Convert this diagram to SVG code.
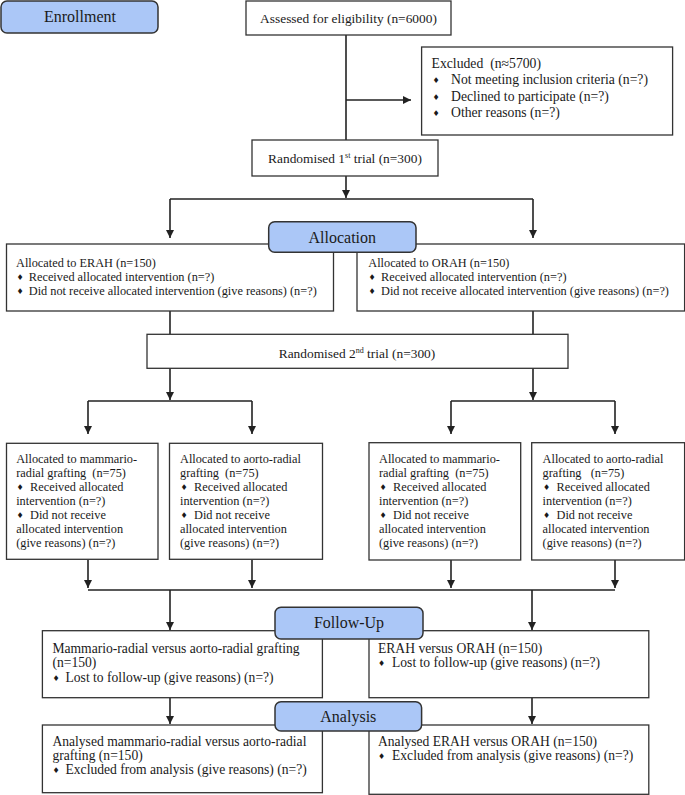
<svg xmlns="http://www.w3.org/2000/svg" width="685" height="795" viewBox="0 0 685 795">
<style>
text{font-family:"Liberation Serif","Times New Roman",serif;fill:#1a1a1a;white-space:pre}
.box{fill:#fff;stroke:#333;stroke-width:1.3}
.stage{fill:#abc7f7;stroke:#333;stroke-width:1.5}
.st{font-size:16px;text-anchor:middle}
.m{font-size:13.4px;text-anchor:middle}
.s{font-size:12.3px}
.l{font-size:13.6px}
.x{font-size:13.7px}
.b{font-family:"DejaVu Sans",sans-serif;font-size:8px;text-anchor:middle}
.c{fill:none;stroke:#222;stroke-width:1.6}
.sup{font-size:8px}
</style>
<defs>
<marker id="ah" markerUnits="userSpaceOnUse" markerWidth="9" markerHeight="9" refX="8" refY="4" orient="auto">
<path d="M0,0 L8,4 L0,8 z" fill="#222"/>
</marker>
</defs>
<g id="connectors">
<path class="c" d="M346,35 V140"/>
<path class="c" d="M346,100 H411" marker-end="url(#ah)"/>
<path class="c" d="M346,176 V198" marker-end="url(#ah)"/>
<path class="c" d="M170,199 H533"/>
<path class="c" d="M170,199 V238" marker-end="url(#ah)"/>
<path class="c" d="M533,199 V238" marker-end="url(#ah)"/>
<path class="c" d="M170,311 V334"/>
<path class="c" d="M533,311 V334"/>
<path class="c" d="M170,368 V400" marker-end="url(#ah)"/>
<path class="c" d="M533,368 V400" marker-end="url(#ah)"/>
<path class="c" d="M88,401 H252"/>
<path class="c" d="M451,401 H615"/>
<path class="c" d="M88,401 V434" marker-end="url(#ah)"/>
<path class="c" d="M252,401 V434" marker-end="url(#ah)"/>
<path class="c" d="M451,401 V434" marker-end="url(#ah)"/>
<path class="c" d="M615,401 V434" marker-end="url(#ah)"/>
<path class="c" d="M88,560 V588" marker-end="url(#ah)"/>
<path class="c" d="M252,560 V588" marker-end="url(#ah)"/>
<path class="c" d="M451,560 V588" marker-end="url(#ah)"/>
<path class="c" d="M615,560 V588" marker-end="url(#ah)"/>
<path class="c" d="M88,590 H615"/>
<path class="c" d="M170,590 V630" marker-end="url(#ah)"/>
<path class="c" d="M532,590 V630" marker-end="url(#ah)"/>
<path class="c" d="M170,698 V724" marker-end="url(#ah)"/>
<path class="c" d="M532,698 V724" marker-end="url(#ah)"/>
</g>
<g id="enrollment">
<rect class="stage" x="1" y="1" width="157" height="32" rx="6"/>
<text class="st" x="80" y="22">Enrollment</text>
</g>
<g id="assessed">
<rect class="box" x="246" y="1" width="205" height="34"/>
<text class="m" x="348.5" y="23">Assessed for eligibility (n=6000)</text>
</g>
<g id="excluded">
<rect class="box" x="421.6" y="47" width="251" height="88"/>
<text class="x" x="431.6" y="68">Excluded  (n≈5700)</text>
<text class="b" x="436" y="83">♦</text><text class="x" x="451" y="84.3">Not meeting inclusion criteria (n=?)</text>
<text class="b" x="436" y="99.5">♦</text><text class="x" x="451" y="100.7">Declined to participate (n=?)</text>
<text class="b" x="436" y="115.5">♦</text><text class="x" x="451" y="116.7">Other reasons (n=?)</text>
</g>
<g id="randomised1">
<rect class="box" x="252" y="140" width="186" height="36"/>
<text class="m" x="345" y="163">Randomised 1<tspan class="sup" dy="-5">st</tspan><tspan dy="5"> trial (n=300)</tspan></text>
</g>
<g id="erah">
<rect class="box" x="6.5" y="244" width="327" height="67"/>
<text class="s" x="16" y="266.7">Allocated to ERAH (n=150)</text>
<text class="b" x="20" y="280">♦</text><text class="s" x="28.8" y="281">Received allocated intervention (n=?)</text>
<text class="b" x="20" y="294.3">♦</text><text class="s" x="28.8" y="295.3">Did not receive allocated intervention (give reasons) (n=?)</text>
</g>
<g id="orah">
<rect class="box" x="357" y="244" width="327.6" height="67"/>
<text class="s" x="368.3" y="266.7">Allocated to ORAH (n=150)</text>
<text class="b" x="372" y="280">♦</text><text class="s" x="381" y="281">Received allocated intervention (n=?)</text>
<text class="b" x="372" y="294.3">♦</text><text class="s" x="381" y="295.3">Did not receive allocated intervention (give reasons) (n=?)</text>
</g>
<g id="allocation">
<rect class="stage" x="268.7" y="221.7" width="147.3" height="30.6" rx="6"/>
<text class="st" x="342.3" y="242.5">Allocation</text>
</g>
<g id="randomised2">
<rect class="box" x="147" y="334.3" width="421" height="34"/>
<text class="m" x="357" y="358">Randomised 2<tspan class="sup" dy="-5">nd</tspan><tspan dy="5"> trial (n=300)</tspan></text>
</g>
<g id="erah-mammario">
<rect class="box" x="6.5" y="443.3" width="151.5" height="116"/>
<text class="s" x="16.2" y="463.3">Allocated to mammario-</text>
<text class="s" x="16.2" y="477.2">radial grafting  (n=75)</text>
<text class="b" x="20" y="490">♦</text><text class="s" x="27" y="491.1"> Received allocated</text>
<text class="s" x="16.2" y="505">intervention (n=?)</text>
<text class="b" x="20" y="517.8">♦</text><text class="s" x="27" y="518.9"> Did not receive</text>
<text class="s" x="16.2" y="532.8">allocated intervention</text>
<text class="s" x="16.2" y="546.7">(give reasons) (n=?)</text>
</g>
<g id="erah-aorto">
<rect class="box" x="169.5" y="443.3" width="153" height="116"/>
<text class="s" x="180" y="463.3">Allocated to aorto-radial</text>
<text class="s" x="180" y="477.2">grafting  (n=75)</text>
<text class="b" x="184" y="490">♦</text><text class="s" x="191" y="491.1"> Received allocated</text>
<text class="s" x="180" y="505">intervention (n=?)</text>
<text class="b" x="184" y="517.8">♦</text><text class="s" x="191" y="518.9"> Did not receive</text>
<text class="s" x="180" y="532.8">allocated intervention</text>
<text class="s" x="180" y="546.7">(give reasons) (n=?)</text>
</g>
<g id="orah-mammario">
<rect class="box" x="369" y="442.7" width="151.7" height="117.3"/>
<text class="s" x="379" y="463.3">Allocated to mammario-</text>
<text class="s" x="379" y="477.2">radial grafting  (n=75)</text>
<text class="b" x="383" y="490">♦</text><text class="s" x="390" y="491.1"> Received allocated</text>
<text class="s" x="379" y="505">intervention (n=?)</text>
<text class="b" x="383" y="517.8">♦</text><text class="s" x="390" y="518.9"> Did not receive</text>
<text class="s" x="379" y="532.8">allocated intervention</text>
<text class="s" x="379" y="546.7">(give reasons) (n=?)</text>
</g>
<g id="orah-aorto">
<rect class="box" x="531.7" y="442.7" width="152.9" height="117.3"/>
<text class="s" x="542.6" y="463.3">Allocated to aorto-radial</text>
<text class="s" x="542.6" y="477.2">grafting   (n=75)</text>
<text class="b" x="546.5" y="490">♦</text><text class="s" x="553.5" y="491.1"> Received allocated</text>
<text class="s" x="542.6" y="505">intervention (n=?)</text>
<text class="b" x="546.5" y="517.8">♦</text><text class="s" x="553.5" y="518.9"> Did not receive</text>
<text class="s" x="542.6" y="532.8">allocated intervention</text>
<text class="s" x="542.6" y="546.7">(give reasons) (n=?)</text>
</g>
<g id="followup-left">
<rect class="box" x="42.4" y="630.7" width="280" height="67"/>
<text class="l" x="52.4" y="652.7">Mammario-radial versus aorto-radial grafting</text>
<text class="l" x="52.4" y="666.9">(n=150)</text>
<text class="b" x="56" y="680.5">♦</text><text class="l" x="65.5" y="681.7">Lost to follow-up (give reasons) (n=?)</text>
</g>
<g id="followup-right">
<rect class="box" x="369" y="630.7" width="279.8" height="67"/>
<text class="l" x="378" y="652.7">ERAH versus ORAH (n=150)</text>
<text class="b" x="381.5" y="666">♦</text><text class="l" x="392" y="667.2">Lost to follow-up (give reasons) (n=?)</text>
</g>
<g id="followup">
<rect class="stage" x="275" y="607.3" width="148" height="31.7" rx="6"/>
<text class="st" x="349" y="628.3">Follow-Up</text>
</g>
<g id="analysis-left">
<rect class="box" x="42.4" y="725" width="280" height="67.7"/>
<text class="l" x="52.4" y="745.7">Analysed mammario-radial versus aorto-radial</text>
<text class="l" x="52.4" y="760">grafting (n=150)</text>
<text class="b" x="56" y="773.1">♦</text><text class="l" x="65.5" y="774.3">Excluded from analysis (give reasons) (n=?)</text>
</g>
<g id="analysis-right">
<rect class="box" x="369" y="725" width="279.8" height="69.3"/>
<text class="l" x="378" y="745.7">Analysed ERAH versus ORAH (n=150)</text>
<text class="b" x="381.5" y="758.8">♦</text><text class="l" x="392" y="760">Excluded from analysis (give reasons) (n=?)</text>
</g>
<g id="analysis">
<rect class="stage" x="275" y="701.7" width="146.6" height="29.3" rx="6"/>
<text class="st" x="348.3" y="721.5">Analysis</text>
</g>
</svg>
